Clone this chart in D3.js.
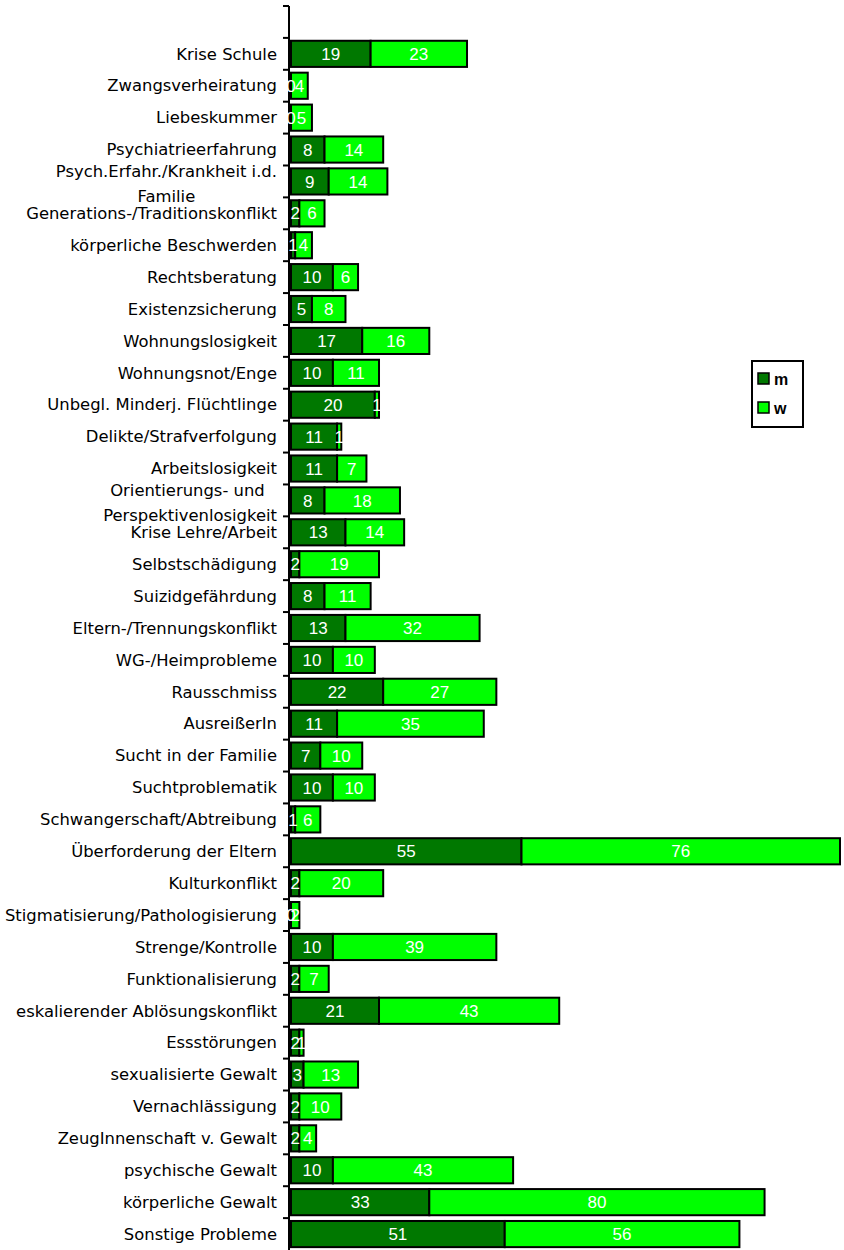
<!DOCTYPE html>
<html>
<head>
<meta charset="utf-8">
<script src="https://cdn.jsdelivr.net/npm/d3@7"></script>
<style>
  body { margin:0; background:#fff; }
  svg text { font-family: "DejaVu Sans", Verdana, sans-serif; }
</style>
</head>
<body>
<div id="chart"></div>
<script>
var svgW = 844,
    svgH = 1250;

// categories from top to bottom ("|" = line break in the label)
var categories = [
  "Krise Schule", "Zwangsverheiratung", "Liebeskummer", "Psychiatrieerfahrung",
  "Psych.Erfahr./Krankheit i.d.|Familie", "Generations-/Traditionskonflikt",
  "körperliche Beschwerden", "Rechtsberatung", "Existenzsicherung", "Wohnungslosigkeit",
  "Wohnungsnot/Enge", "Unbegl. Minderj. Flüchtlinge", "Delikte/Strafverfolgung",
  "Arbeitslosigkeit", "Orientierungs- und |Perspektivenlosigkeit", "Krise Lehre/Arbeit",
  "Selbstschädigung", "Suizidgefährdung", "Eltern-/Trennungskonflikt", "WG-/Heimprobleme",
  "Rausschmiss", "AusreißerIn", "Sucht in der Familie", "Suchtproblematik",
  "Schwangerschaft/Abtreibung", "Überforderung der Eltern", "Kulturkonflikt",
  "Stigmatisierung/Pathologisierung", "Strenge/Kontrolle", "Funktionalisierung",
  "eskalierender Ablösungskonflikt", "Essstörungen", "sexualisierte Gewalt",
  "Vernachlässigung", "ZeugInnenschaft v. Gewalt", "psychische Gewalt",
  "körperliche Gewalt", "Sonstige Probleme"
];

var valuesM = [19, 0, 0, 8, 9, 2, 1, 10, 5, 17, 10, 20, 11, 11, 8, 13, 2, 8, 13, 10,
               22, 11, 7, 10, 1, 55, 2, 0, 10, 2, 21, 2, 3, 2, 2, 10, 33, 51];
var valuesW = [23, 4, 5, 14, 14, 6, 4, 6, 8, 16, 11, 1, 1, 7, 18, 14, 19, 11, 32, 10,
               27, 35, 10, 10, 6, 76, 20, 2, 39, 7, 43, 1, 13, 10, 4, 43, 80, 56];

var seriesNames = ["m", "w"];
var seriesColors = ["#007800", "#00ff00"];

var axisX = 289,
    axisTop = 6,
    labelX = 277;

var svg = d3.select("#chart")
  .append("svg")
    .attr("width", svgW)
    .attr("height", svgH);

// one empty slot on top, like the original
var y = d3.scaleBand()
  .domain([""].concat(categories))
  .range([axisTop, svgH])
  .paddingInner(0.18)
  .paddingOuter(0.09);

var step = y.step();

var x = d3.scaleLinear()
  .domain([0, 131])
  .range([axisX + 2, 840]);

var rows = categories.map(function(c, i) {
  return {c: c, m: valuesM[i], w: valuesW[i]};
});

// axis line + ticks between the bands
var gAxis = svg.append("g").attr("id", "g_axis");
gAxis.append("line")
  .attr("x1", axisX).attr("x2", axisX)
  .attr("y1", axisTop).attr("y2", svgH)
  .attr("stroke", "#000").attr("stroke-width", 2);

var tickYs = d3.range(0, categories.length + 1).map(function(i) { return axisTop + i * step; });
gAxis.selectAll("line.tick")
  .data(tickYs)
  .enter()
  .append("line")
    .attr("class", "tick")
    .attr("x1", axisX - 6).attr("x2", axisX)
    .attr("y1", function(d) { return d; })
    .attr("y2", function(d) { return d; })
    .attr("stroke", "#000").attr("stroke-width", 2);

// category labels (two-line ones are centred on each other)
var labels = svg.append("g").attr("id", "g_labels")
  .selectAll("g")
  .data(rows)
  .enter()
  .append("g")
    .attr("transform", function(d) { return "translate(0," + (y(d.c) + y.bandwidth() / 2) + ")"; });

labels.each(function(d) {
  var parts = d.c.split("|"), g = d3.select(this);
  if (parts.length == 1) {
    g.append("text")
      .attr("x", labelX).attr("dy", "0.35em")
      .attr("text-anchor", "end").attr("font-size", 16.4)
      .text(parts[0]);
    return;
  }
  var ts = parts.map(function(p, i) {
    return g.append("text")
      .attr("y", i === 0 ? -10.5 : 14.5).attr("dy", "0.35em")
      .attr("text-anchor", "middle").attr("font-size", 16.4)
      .style("white-space", "pre")
      .text(p);
  });
  var w = d3.max(ts, function(t) { return t.node().getComputedTextLength(); });
  ts.forEach(function(t) { t.attr("x", labelX - w / 2); });
});

// stacked segments
var stack = d3.stack().keys(["m", "w"])(rows);

var gBars = svg.append("g").attr("id", "g_rects");
stack.forEach(function(layer, k) {
  gBars.selectAll("rect.s" + k)
    .data(layer)
    .enter()
    .append("rect")
      .attr("class", "s" + k)
      .attr("x", function(d) { return x(d[0]); })
      .attr("y", function(d) { return y(d.data.c); })
      .attr("width", function(d) { return x(d[1]) - x(d[0]); })
      .attr("height", y.bandwidth())
      .attr("fill", seriesColors[k])
      .attr("stroke", "#000")
      .attr("stroke-width", 2);
});

// value labels in the segments
var gVals = svg.append("g").attr("id", "g_values");
stack.forEach(function(layer, k) {
  gVals.selectAll("text.v" + k)
    .data(layer)
    .enter()
    .append("text")
      .attr("class", "v" + k)
      .attr("x", function(d) { return (x(d[0]) + x(d[1])) / 2; })
      .attr("y", function(d) { return y(d.data.c) + y.bandwidth() / 2; })
      .attr("dy", "0.36em")
      .attr("text-anchor", "middle")
      .attr("font-size", 17)
      .attr("fill", "#fff")
      .style("font-family", "'Liberation Sans', Arial, sans-serif")
      .text(function(d) { return d[1] - d[0]; });
});

// legend
var legend = svg.append("g").attr("id", "g_legend").attr("transform", "translate(752,361)");
legend.append("rect")
  .attr("width", 51).attr("height", 66)
  .attr("fill", "#fff").attr("stroke", "#000").attr("stroke-width", 2);
seriesNames.forEach(function(n, i) {
  legend.append("rect")
    .attr("x", 6).attr("y", 12 + i * 29)
    .attr("width", 11).attr("height", 11)
    .attr("fill", seriesColors[i]).attr("stroke", "#000").attr("stroke-width", 1.5);
  legend.append("text")
    .attr("x", 22).attr("y", 18 + i * 29).attr("dy", "0.36em")
    .attr("font-size", 16).attr("font-weight", "bold")
    .style("font-family", "'Liberation Sans', Arial, sans-serif")
    .text(n);
});
</script>
</body>
</html>
